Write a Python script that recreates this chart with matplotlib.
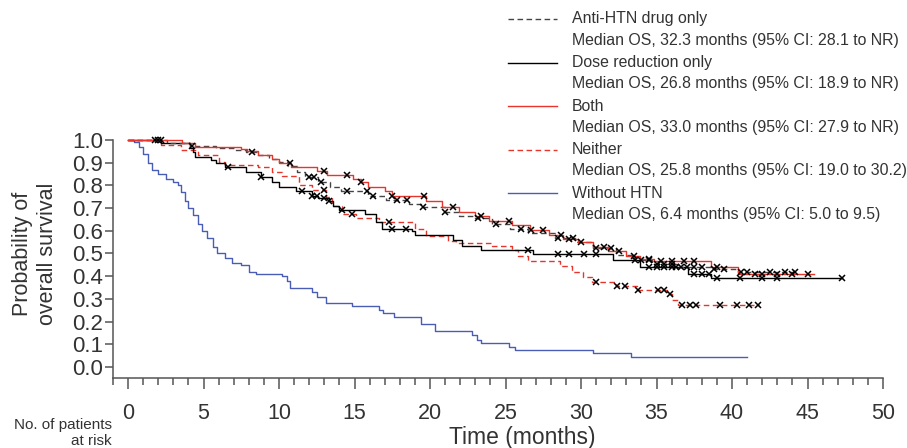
import numpy as np
import matplotlib
matplotlib.use("Agg")
import matplotlib.pyplot as plt
from matplotlib.lines import Line2D
from matplotlib.ticker import MultipleLocator

plt.rcParams['font.family'] = ['Liberation Sans', 'DejaVu Sans']

# Kaplan-Meier steps: time of each drop (months), survival after it
anti_t = [0, 2.6, 4.1, 5.8, 7.1, 7.8, 8.6, 9.3, 10.0, 10.6, 11.2, 11.7, 12.6, 13.4, 14.1, 15.9, 17.1,
          18.6, 19.5, 21.0, 21.9, 23.0, 24.1, 25.3, 26.5, 28.3, 29.6, 30.8, 32.3, 33.5, 34.7, 36.4, 38.6, 40.4]
anti_s = [1.0, 0.985, 0.975, 0.965, 0.955, 0.945, 0.935, 0.915, 0.905, 0.885, 0.86, 0.835, 0.815, 0.795,
          0.775, 0.755, 0.735, 0.72, 0.705, 0.685, 0.665, 0.655, 0.63, 0.61, 0.59, 0.57, 0.55, 0.525,
          0.495, 0.47, 0.455, 0.44, 0.43, 0.42]
anti_end = 44.2
anti_cens = [1.8, 2.2, 4.2, 8.2, 12.0, 12.3, 12.8, 14.5, 15.8, 16.2, 17.8, 18.5, 19.5, 21.0, 23.2, 24.4,
             26.0, 28.5, 29.5, 31.0, 32.0, 33.6, 34.0, 34.5, 35.0, 35.5, 36.0, 36.6, 37.0, 37.5, 38.0,
             38.8, 39.5, 40.6, 41.0, 42.5, 43.5, 44.2]

dose_t = [0, 2.2, 4.1, 4.3, 4.4, 5.5, 5.8, 6.4, 7.8, 8.8, 9.5, 10.0, 11.1, 12.2, 12.6, 13.3, 13.6, 14.0,
          15.7, 16.4, 16.8, 18.8, 19.0, 21.5, 22.1, 23.4, 26.8, 32.1, 33.9, 37.1, 38.6]
dose_s = [1.0, 0.985, 0.965, 0.945, 0.925, 0.91, 0.90, 0.88, 0.86, 0.835, 0.815, 0.795, 0.775, 0.755,
          0.745, 0.73, 0.71, 0.69, 0.675, 0.64, 0.61, 0.60, 0.58, 0.56, 0.535, 0.515, 0.497, 0.47, 0.44,
          0.41, 0.39]
dose_end = 47.3
dose_cens = [6.6, 8.8, 11.5, 12.2, 12.5, 13.0, 13.3, 14.2, 17.5, 18.4, 26.5, 28.5, 29.2, 30.2, 31.0,
             34.5, 35.0, 35.5, 36.0, 36.3, 37.5, 38.0, 38.5, 39.0, 40.5, 42.0, 43.0, 47.3]

both_t = [0, 3.6, 4.4, 7.5, 7.9, 8.6, 9.5, 10.0, 10.8, 12.5, 13.2, 14.9, 15.4, 15.9, 17.0, 17.5, 19.7,
          20.8, 21.9, 23.0, 23.9, 25.4, 26.6, 27.9, 28.8, 29.8, 30.8, 31.8, 33.0, 33.9, 34.8, 38.6, 40.4]
both_s = [1.0, 0.985, 0.97, 0.96, 0.95, 0.935, 0.915, 0.90, 0.88, 0.865, 0.845, 0.83, 0.815, 0.795,
          0.775, 0.755, 0.73, 0.705, 0.685, 0.665, 0.645, 0.625, 0.605, 0.58, 0.565, 0.55, 0.53, 0.51,
          0.49, 0.475, 0.465, 0.44, 0.41]
both_end = 45.4
both_cens = [10.7, 13.0, 14.5, 15.4, 17.5, 19.6, 21.5, 23.4, 25.2, 26.7, 27.5, 28.7, 29.2, 30.0, 31.5,
             32.5, 33.5, 34.5, 35.3, 36.0, 36.8, 37.5, 39.0, 41.5, 42.0, 43.0, 44.0, 45.0]

neither_t = [0, 2.2, 3.5, 4.6, 6.0, 6.4, 8.6, 9.5, 10.2, 11.3, 12.2, 13.1, 13.5, 14.2, 15.1, 16.6, 19.0,
             19.7, 21.2, 21.7, 24.1, 25.4, 25.8, 26.5, 28.6, 29.4, 30.1, 30.7, 32.3, 33.7, 35.7, 36.0, 36.4]
neither_s = [1.0, 0.98, 0.955, 0.935, 0.905, 0.89, 0.88, 0.86, 0.84, 0.80, 0.78, 0.75, 0.71, 0.675,
             0.655, 0.64, 0.61, 0.575, 0.555, 0.545, 0.535, 0.515, 0.49, 0.465, 0.445, 0.42, 0.395,
             0.375, 0.355, 0.34, 0.32, 0.295, 0.275]
neither_end = 41.8
neither_cens = [2.0, 13.0, 14.8, 17.3, 31.0, 32.4, 32.9, 33.8, 35.1, 35.5, 35.9, 36.7, 37.2, 37.6,
                39.2, 40.3, 41.1, 41.7]

nohtn_t = [0, 0.4, 0.7, 1.0, 1.3, 1.6, 2.0, 2.5, 3.0, 3.3, 3.5, 3.8, 4.0, 4.3, 4.6, 4.9, 5.2, 5.6, 5.9,
           6.4, 6.9, 7.5, 8.0, 8.5, 10.2, 10.5, 10.7, 12.2, 12.5, 13.1, 14.8, 16.6, 16.9, 17.6, 19.4,
           20.3, 22.8, 23.1, 23.4, 25.2, 25.6, 30.8, 33.3]
nohtn_s = [1.0, 0.99, 0.97, 0.94, 0.90, 0.87, 0.85, 0.83, 0.815, 0.80, 0.77, 0.73, 0.70, 0.67, 0.63,
           0.60, 0.57, 0.53, 0.50, 0.48, 0.46, 0.45, 0.42, 0.41, 0.40, 0.38, 0.35, 0.33, 0.31, 0.28,
           0.27, 0.25, 0.24, 0.22, 0.19, 0.16, 0.14, 0.12, 0.105, 0.09, 0.075, 0.06, 0.045]
nohtn_end = 41.0

labels = ["Anti-HTN drug only", "Dose reduction only", "Both", "Neither", "Without HTN"]
medians = ["Median OS, 32.3 months (95% CI: 28.1 to NR)",
           "Median OS, 26.8 months (95% CI: 18.9 to NR)",
           "Median OS, 33.0 months (95% CI: 27.9 to NR)",
           "Median OS, 25.8 months (95% CI: 19.0 to 30.2)",
           "Median OS, 6.4 months (95% CI: 5.0 to 9.5)"]

RED = "#e8352c"
BLUE = "#4a5db5"
GRAY = "#444444"
styles = [dict(color=GRAY, ls=(0, (4, 2.5))),
          dict(color="black", ls="-"),
          dict(color=RED, ls="-"),
          dict(color=RED, ls=(0, (4, 2.5))),
          dict(color=BLUE, ls="-")]

curves = [(anti_t, anti_s, anti_end, anti_cens),
          (dose_t, dose_s, dose_end, dose_cens),
          (both_t, both_s, both_end, both_cens),
          (neither_t, neither_s, neither_end, neither_cens),
          (nohtn_t, nohtn_s, nohtn_end, [])]

W, H = 907, 448
fig = plt.figure(figsize=(W / 100, H / 100), dpi=100)
ax = fig.add_axes([113 / W, 1 - 378 / H, (883 - 113) / W, (378 - 140) / H])

draw_order = [4, 3, 1, 0, 2]
for i in draw_order:
    t, s, end, cens = curves[i]
    ax.step(list(t) + [end], list(s) + [s[-1]], where="post", lw=1.0, clip_on=False, **styles[i])
for i in draw_order:
    t, s, end, cens = curves[i]
    if cens:
        idx = np.searchsorted(t, cens, side="right") - 1
        ax.plot(cens, np.array(s)[idx], ls="none", marker="x", ms=5, mew=1.1, color="black",
                clip_on=False, zorder=5)

ax.set_xlim(-1, 50)
ax.set_ylim(-0.0485, 1.0)
for sp in ["top", "right"]:
    ax.spines[sp].set_visible(False)
for sp in ["left", "bottom"]:
    ax.spines[sp].set_color("#555555")
    ax.spines[sp].set_linewidth(1.1)

ax.set_xticks(range(0, 51, 5))
ax.xaxis.set_minor_locator(MultipleLocator(1))
yt = np.round(np.arange(0, 1.01, 0.1), 1)
ax.set_yticks(yt)
ax.set_yticklabels([f"{v:.1f}" for v in yt])
ax.tick_params(axis="x", which="major", length=8, width=1.1, color="#555555", pad=10,
               labelsize=15.5, labelcolor="#333333")
ax.tick_params(axis="x", which="minor", length=5, width=1.1, color="#555555")
ax.tick_params(axis="y", length=6, width=1.1, color="#555555", pad=1,
               labelsize=16, labelcolor="#333333")

fig.text(35 / W, 1 - 254 / H, "Probability of\noverall survival", rotation=90, ha="center",
         va="center", fontsize=15.5, color="#333333", linespacing=1.2)
fig.text(522 / W, 1 - 437 / H, "Time (months)", ha="center", va="center", fontsize=16.5,
         color="#333333")
fig.text(112 / W, 1 - 433 / H, "No. of patients\nat risk", ha="right", va="center", fontsize=11,
         color="#333333", linespacing=1.15, multialignment="right")

# legend drawn by hand: line next to first text line
for k in range(5):
    yl = 19 + 43.6 * k
    fig.add_artist(Line2D([508 / W, 557 / W], [1 - yl / H] * 2, transform=fig.transFigure,
                          lw=1.0, **styles[k]))
    fig.text(572 / W, 1 - yl / H, labels[k], va="center", fontsize=11.4, color="#333333")
    fig.text(572 / W, 1 - (yl + 21) / H, medians[k], va="center", fontsize=11.4, color="#333333")

fig.savefig("out.png", dpi=100)
